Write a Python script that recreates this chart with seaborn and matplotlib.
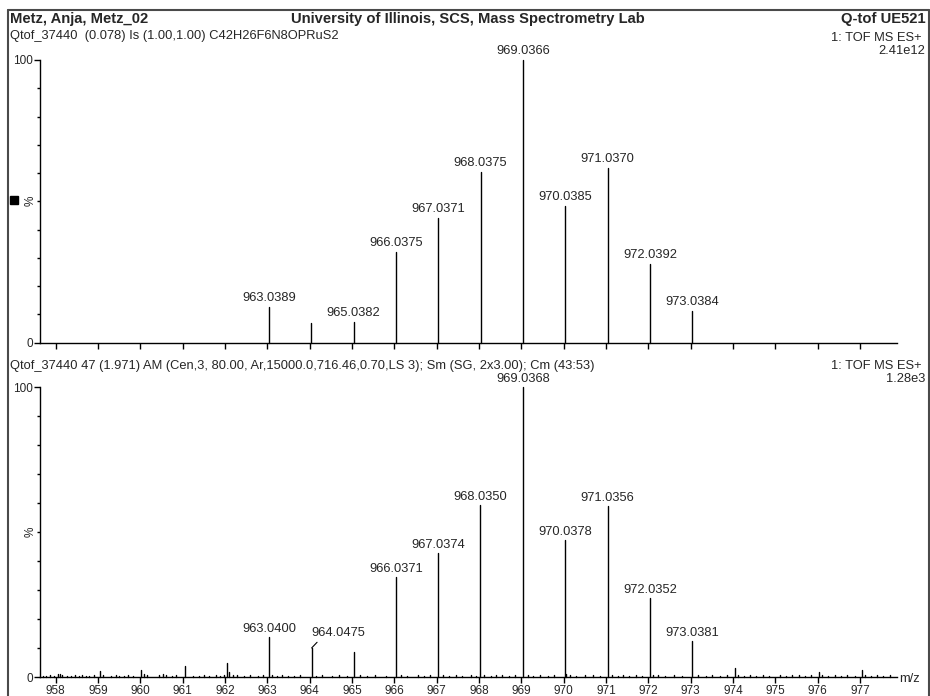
import matplotlib
matplotlib.use("Agg")
import matplotlib.pyplot as plt
import pandas as pd
import seaborn as sns
from matplotlib.lines import Line2D
from matplotlib.patches import Rectangle

# ---------------- data ----------------
top_mz = [963.0389, 964.0300, 965.0382, 966.0375, 967.0371, 968.0375,
          969.0366, 970.0385, 971.0370, 972.0392, 973.0384]
top_int = [12.6, 6.8, 7.2, 32.0, 44.2, 60.2, 100.0, 48.3, 61.8, 27.8, 11.0]
top_lab = ["963.0389", "", "965.0382", "966.0375", "967.0371", "968.0375",
           "969.0366", "970.0385", "971.0370", "972.0392", "973.0384"]

bot_mz = [963.0400, 964.0475, 965.0400, 966.0371, 967.0374, 968.0350,
          969.0368, 970.0378, 971.0356, 972.0352, 973.0381]
bot_int = [13.9, 10.0, 8.7, 34.5, 42.8, 59.3, 100.0, 47.2, 59.0, 27.2, 12.4]
bot_lab = ["963.0400", "964.0475", "", "966.0371", "967.0374", "968.0350",
           "969.0368", "970.0378", "971.0356", "972.0352", "973.0381"]

noise_mz = [957.70, 957.78, 957.88, 957.97, 958.05, 958.10, 958.16, 958.28, 958.36, 958.45,
            958.55, 958.62, 958.72, 958.80, 958.92, 959.05, 959.13, 959.30, 959.42, 959.50,
            959.62, 959.72, 959.82, 960.02, 960.08, 960.15, 960.45, 960.55, 960.62, 960.75,
            960.85, 961.05, 961.25, 961.38, 961.50, 961.62, 961.78, 961.88, 961.97, 962.05,
            962.10, 962.18, 962.28, 962.45, 962.60, 962.78, 962.90, 963.12, 963.22, 963.35,
            963.48, 963.62, 963.78, 964.15, 964.30, 964.52, 964.70, 964.88, 965.18, 965.35,
            965.55, 965.80, 966.15, 966.30, 966.55, 966.70, 966.85, 967.15, 967.30, 967.45,
            967.60, 967.80, 967.92, 968.12, 968.28, 968.40, 968.55, 968.70, 968.85, 969.15,
            969.28, 969.45, 969.62, 969.78, 970.05, 970.15, 970.30, 970.50, 970.68, 970.85,
            971.15, 971.28, 971.40, 971.55, 971.70, 971.85, 972.12, 972.22, 972.40, 972.60,
            972.80, 973.18, 973.35, 973.50, 973.70, 973.85, 974.05, 974.12, 974.25, 974.40,
            974.55, 974.70, 974.85, 975.10, 975.25, 975.40, 975.55, 975.70, 975.85, 976.02,
            976.10, 976.25, 976.40, 976.55, 976.70, 976.88, 977.05, 977.12, 977.25, 977.40,
            977.55, 977.70]
noise_int = [0.5, 0.4, 0.6, 0.5, 0.9, 1.2, 0.6, 0.5, 0.4, 0.6,
             0.5, 0.7, 0.5, 0.4, 0.6, 2.0, 0.6, 0.5, 0.6, 0.4,
             0.5, 0.6, 0.4, 2.5, 1.2, 0.6, 0.6, 1.0, 0.7, 0.5,
             0.6, 3.8, 0.5, 0.4, 0.6, 0.5, 0.6, 0.5, 0.6, 4.8,
             1.6, 0.8, 0.6, 0.5, 0.6, 0.5, 0.6, 0.6, 0.5, 0.6,
             0.5, 0.5, 0.6, 0.5, 0.6, 0.5, 0.6, 0.5, 0.6, 0.5,
             0.6, 0.5, 0.6, 0.5, 0.6, 0.5, 0.6, 0.6, 0.5, 0.6,
             0.5, 0.6, 0.5, 0.6, 0.5, 0.8, 0.6, 0.5, 0.6, 0.6,
             0.5, 0.6, 0.5, 0.6, 1.0, 0.6, 0.5, 0.8, 0.6, 0.5,
             0.6, 0.5, 0.6, 0.5, 0.6, 0.5, 0.8, 0.6, 0.5, 0.6,
             0.5, 0.6, 0.5, 0.6, 0.5, 0.6, 3.1, 0.8, 0.5, 0.6,
             0.5, 0.6, 0.5, 0.6, 0.5, 0.6, 0.7, 0.5, 0.6, 1.8,
             0.7, 0.5, 0.6, 0.5, 0.6, 0.5, 2.4, 0.8, 0.5, 0.6,
             0.5, 0.6]

x_ticks = list(range(958, 978))
y_major = [0, 100]
y_major_lab = ["0", "100"]
y_minor = [10, 20, 30, 40, 50, 60, 70, 80, 90]
x_range = (957.634, 977.87)

header_left = "Metz, Anja, Metz_02"
header_mid = "University of Illinois, SCS, Mass Spectrometry Lab"
header_right = "Q-tof UE521"
top_desc = "Qtof_37440  (0.078) Is (1.00,1.00) C42H26F6N8OPRuS2"
bot_desc = ("Qtof_37440 47 (1.971) AM (Cen,3, 80.00, Ar,15000.0,716.46,0.70,LS 3); "
            "Sm (SG, 2x3.00); Cm (43:53)")
scan_type = "1: TOF MS ES+"
top_scale = "2.41e12"
bot_scale = "1.28e3"

# ---------------- style ----------------
sns.set_style("white")
plt.rcParams["font.family"] = ["Liberation Sans", "DejaVu Sans"]

SMALL = 9.3
TICK = 8.5

W, H = 930, 696
fig = plt.figure(figsize=(W / 100, H / 100), dpi=100)


def fx(px):
    return px / W


def fy(py):
    return 1 - py / H


ax_top = fig.add_axes([fx(40), fy(342.5), fx(897) - fx(40), fy(60) - fy(342.5)])
ax_bot = fig.add_axes([fx(40), fy(677), fx(897) - fx(40), fy(387) - fy(677)])


def sticks(mz, inten):
    rows = []
    for i, (m, h) in enumerate(zip(mz, inten)):
        rows.append((i, m, 0.0))
        rows.append((i, m, h))
    return pd.DataFrame(rows, columns=["peak", "mz", "intensity"])


df_top = sticks(top_mz, top_int)
df_bot = sticks(bot_mz + noise_mz, bot_int + noise_int)

for ax, df in ((ax_top, df_top), (ax_bot, df_bot)):
    sns.lineplot(data=df, x="mz", y="intensity", units="peak", estimator=None,
                 sort=False, color="black", lw=1.0, ax=ax, legend=False)
    ax.set_xlim(*x_range)
    ax.set_ylim(0, 100)
    ax.set_xlabel("")
    ax.set_ylabel("")
    for s in ("top", "right"):
        ax.spines[s].set_visible(False)
    for s in ("left", "bottom"):
        ax.spines[s].set_color("black")
        ax.spines[s].set_linewidth(1.0)
    ax.set_xticks(x_ticks)
    ax.set_xticklabels([str(t) for t in x_ticks])
    ax.set_yticks(y_major)
    ax.set_yticklabels(y_major_lab)
    ax.set_yticks(y_minor, minor=True)
    ax.tick_params(axis="x", which="major", direction="out", length=4.3, width=1.0,
                   color="black", labelsize=TICK, pad=1.5, bottom=True)
    ax.tick_params(axis="y", which="major", direction="out", length=4.0, width=1.0,
                   color="black", labelsize=TICK, pad=1, left=True)
    ax.tick_params(axis="y", which="minor", direction="out", length=2.0, width=1.0,
                   color="black", left=True)
    ax.text(-0.0105, 50, "%", transform=ax.get_yaxis_transform(), rotation=90,
            ha="center", va="center", fontsize=TICK)
    for line in ax.lines:
        line.set_clip_on(False)

ax_top.tick_params(axis="x", labelbottom=False)

# peak labels
for m, h, lab in zip(top_mz, top_int, top_lab):
    if lab:
        ax_top.annotate(lab, xy=(m, h), xytext=(0, 3), textcoords="offset pixels",
                        ha="center", va="bottom", fontsize=SMALL)
for m, h, lab in zip(bot_mz, bot_int, bot_lab):
    if not lab:
        continue
    if lab == "964.0475":
        ax_bot.annotate(lab, xy=(m, h), xytext=(0, 9), textcoords="offset pixels",
                        ha="left", va="bottom", fontsize=SMALL,
                        arrowprops=dict(arrowstyle="-", color="black", lw=0.8,
                                        shrinkA=0, shrinkB=0, relpos=(0.17, 0.05)))
    else:
        ax_bot.annotate(lab, xy=(m, h), xytext=(0, 2), textcoords="offset pixels",
                        ha="center", va="bottom", fontsize=SMALL)

# header and annotations
fig.text(fx(10), fy(19), header_left, ha="left", va="center", fontsize=10.6, weight="bold")
fig.text(fx(468), fy(19), header_mid, ha="center", va="center", fontsize=10.6, weight="bold")
fig.text(fx(926), fy(19), header_right, ha="right", va="center", fontsize=10.6, weight="bold")
fig.text(fx(10), fy(36), top_desc, ha="left", va="center", fontsize=SMALL)
fig.text(fx(921), fy(38), scan_type, ha="right", va="center", fontsize=SMALL)
fig.text(fx(925), fy(51), top_scale, ha="right", va="center", fontsize=SMALL)
fig.text(fx(10), fy(365.5), bot_desc, ha="left", va="center", fontsize=SMALL)
fig.text(fx(921), fy(366), scan_type, ha="right", va="center", fontsize=SMALL)
fig.text(fx(925), fy(379), bot_scale, ha="right", va="center", fontsize=SMALL)
fig.text(fx(899), fy(679), "m/z", ha="left", va="center", fontsize=SMALL)

# page frame
frame_c = "#4a4a4a"
fig.add_artist(Line2D([fx(8), fx(929)], [fy(10), fy(10)], color=frame_c, lw=1.5))
fig.add_artist(Line2D([fx(8), fx(8)], [fy(10), 0], color=frame_c, lw=1.5))
fig.add_artist(Line2D([fx(929), fx(929)], [fy(10), 0], color=frame_c, lw=1.5))
fig.add_artist(Rectangle((fx(10), fy(204)), 8 / W, 8 / H, color="black",
                         transform=fig.transFigure))

fig.savefig("out.png", dpi=100)
